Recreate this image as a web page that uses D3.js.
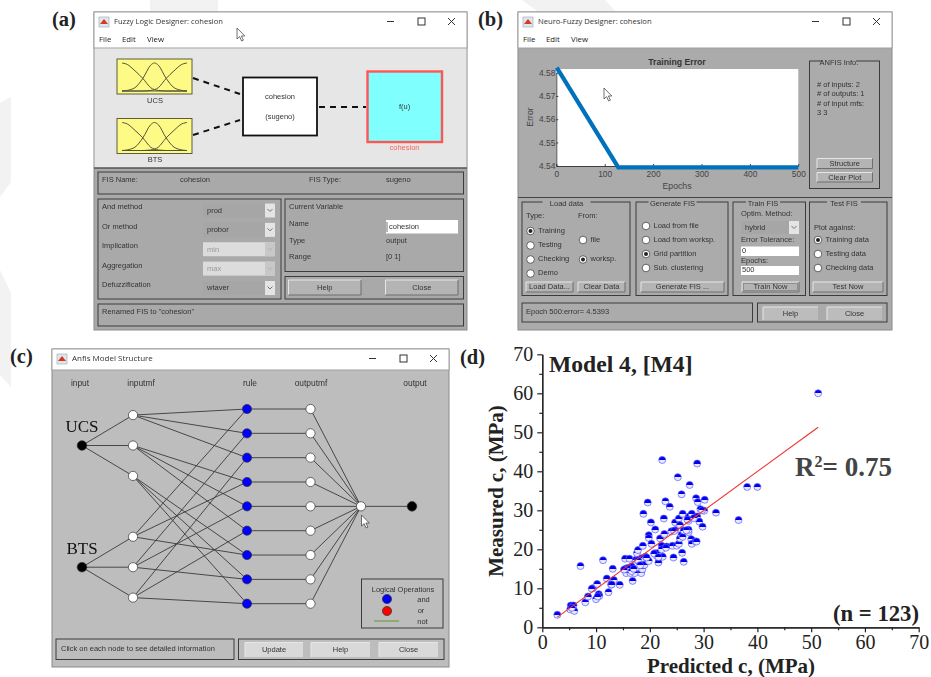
<!DOCTYPE html>
<html>
<head>
<title>ANFIS model</title>
<script src="https://d3js.org/d3.v7.min.js"></script>
<style>
    html, body { margin: 0; padding: 0; background: white; }
    svg { display: block; }
    .gui text { font-family: 'Liberation Sans', sans-serif; font-size: 7.5px; fill: #333; dominant-baseline: middle; }
    .gui text.wintitle { font-family: 'Open Sans', sans-serif; font-size: 7.6px; fill: #333; }
    .gui text.menu { font-family: 'Open Sans', sans-serif; font-size: 7.8px; fill: #222; }
    .soft { filter: blur(0.35px); }
    .axisd text { font-family: 'Liberation Serif', serif; font-size: 20px; fill: #222; }
    .axisd path, .axisd line { stroke: #222; stroke-width: 1.2px; }
    .gui .axisb text { font-family: 'Liberation Sans', sans-serif; font-size: 8.4px; fill: #444; dominant-baseline: auto; }
    .axisb path, .axisb line { stroke: #222; stroke-width: 0.8px; }
</style>
</head>
<body>
<svg id="canvas" width="931" height="677"></svg>
<script>
// (d) predicted vs measured cohesion
const predicted = [2.8,5.3,5.8,5.2,5.95,7.1,8.0,8.5,9.4,10.0,10.2,10.5,10.6,11.3,12.0,12.3,12.8,13.1,13.3,14.4,
    15.4,15.5,15.6,16.2,16.1,16.4,16.6,16.8,16.9,17.2,17.4,17.6,17.8,18.2,18.4,18.6,18.7,18.8,18.5,19.0,
    19.2,19.6,19.8,19.8,19.8,20.2,20.3,21.0,21.0,21.3,21.6,21.4,21.9,22.3,22.2,22.2,22.4,22.6,22.7,22.9,
    23.1,23.7,24.0,24.2,24.4,24.7,24.7,25.0,25.2,25.4,25.4,25.6,25.6,25.9,25.9,26.0,26.1,26.1,26.3,26.3,
    27.2,27.2,27.3,27.2,27.4,27.8,27.7,27.8,28.5,28.7,28.6,28.8,28.9,28.8,29.2,29.4,29.8,30.2,30.1,32.3,
    36.5,38.1,40.0,51.3,10.3,9.2,5.5,12.9,15.9,16.6,17.0,17.8,18.2,19.4,20.8,21.6,23.0,24.5,26.8,27.0,
    28.2,29.7,15.2]
const measured = [3.2,5.6,5.6,4.6,4.2,15.7,6.4,7.9,10.0,7.2,11.1,8.5,8.0,17.2,12.5,9.0,10.9,15.0,12.1,10.9,
    17.6,15.0,13.9,17.6,14.9,13.9,15.6,11.9,14.5,13.9,17.3,19.0,19.8,16.6,13.9,14.9,20.9,29.1,17.7,16.0,
    18.1,32.0,23.6,22.9,17.0,26.9,21.4,25.1,19.0,18.3,16.6,19.0,22.8,42.9,20.9,20.0,18.1,27.9,23.9,32.3,
    20.7,30.9,24.6,20.9,17.9,26.9,24.9,20.9,38.5,27.9,21.4,26.2,22.8,23.7,34.1,19.1,29.1,23.2,16.8,24.8,
    24.4,25.0,28.4,27.3,36.5,29.1,22.6,21.4,22.0,22.0,33.1,42.0,32.1,28.4,27.1,30.3,25.8,32.7,29.9,29.4,
    27.5,36.0,36.0,60.0,7.9,9.9,5.0,11.0,15.2,14.4,15.0,17.2,15.9,17.9,18.9,18.0,20.4,24.7,24.9,27.6,
    28.0,30.0,14.8]
const fitX = [2.8, 51.3]
const fitY = [2.6, 51.3]
const dTicks = [0, 10, 20, 30, 40, 50, 60, 70]
const dMinorTicks = [5, 15, 25, 35, 45, 55, 65]

// (b) training error curve
const epochs = [1, 128, 500]
const trainError = [4.5822, 4.5393, 4.5393]
const epochTicks = [0, 100, 200, 300, 400, 500]
const errorTicks = [4.54, 4.55, 4.56, 4.57, 4.58]

// (c) network layers, rows are in units of the rule spacing
const inputRows = [1.5, 6.5]
const inputMfRows = [0.25, 1.5, 2.75, 5.25, 6.5, 7.75]
const ruleRows = [0, 1, 2, 3, 4, 5, 6, 7, 8]
const ruleInputs = [[0,3],[0,4],[0,5],[1,3],[1,4],[1,5],[2,3],[2,4],[2,5]]
const layerNames = ['input', 'inputmf', 'rule', 'outputmf', 'output']
const inputNames = ['UCS', 'BTS']

// (a) membership function icon, heights
const mfX = [0, .08, .2, .32, .44, .5, .56, .68, .8, .92, 1]
const mfLeft = [1, .95, .72, .45, .12, .05, .02, 0, 0, 0, 0]
const mfMid = [0, .02, .12, .45, .92, 1, .92, .45, .12, .02, 0]
const mfRight = [0, 0, 0, 0, .02, .05, .12, .45, .72, .95, 1]

const svg = d3.select('#canvas')

// faint watermark behind the windows
const watermark = [
    [[150,0],[218,0],[218,13],[150,13]],
    [[522,0],[605,0],[617,13],[540,13]],
    [[0,103],[11,97],[11,182],[0,197]],
    [[0,270],[11,293],[11,387],[0,375]]
]
svg.selectAll('polygon.wm').data(watermark).enter().append('polygon')
    .attr('points', d => d.join(' ')).attr('fill', '#f2f2f2')

// ---- little gui helpers
const box = (g, x0, y0, x1, y1, fill, stroke, sw) => g.append('rect')
    .attr('x', x0).attr('y', y0).attr('width', x1 - x0).attr('height', y1 - y0)
    .attr('fill', fill || 'none').attr('stroke', stroke || 'none').attr('stroke-width', sw || 1)

const label = (g, x, y, s, anchor, cls) => g.append('text')
    .attr('x', x).attr('y', y).attr('text-anchor', anchor || 'start').attr('class', cls || null).text(s)

const frame = (g, x0, y0, x1, y1) => box(g, x0, y0, x1, y1, 'none', '#3c3c3c', 1)

// group frame with a title breaking the top edge
const titledFrame = (g, x0, y0, x1, y1, title, cx, gap, bg) => {
    frame(g, x0, y0, x1, y1)
    box(g, cx - gap, y0 - 1, cx + gap, y0 + 1.5, bg)
    label(g, cx, y0 + 2.5, title, 'middle')
}

const button = (g, x0, y0, x1, y1, s, face) => {
    box(g, x0, y0, x1, y1, face || '#b4b4b4')
    g.append('path').attr('d', `M${x0},${y1}V${y0}H${x1}`).attr('fill', 'none').attr('stroke', '#e6e6e6')
    if (!face) g.append('path').attr('d', `M${x0},${y1}H${x1}V${y0}`).attr('fill', 'none').attr('stroke', '#6e6e6e')
    label(g, (x0 + x1) / 2, (y0 + y1) / 2 + .5, s, 'middle')
}

const radio = (g, x, y, s, on) => {
    g.append('circle').attr('cx', x).attr('cy', y).attr('r', 3.8).attr('fill', 'white').attr('stroke', '#444').attr('stroke-width', .8)
    if (on) g.append('circle').attr('cx', x).attr('cy', y).attr('r', 2).attr('fill', '#222')
    label(g, x + 7.5, y, s)
}

const dropdown = (g, x0, y0, x1, y1, s, disabled) => {
    box(g, x0, y0, x1, y1, disabled ? '#dcdcdc' : '#a6a6a6')
    box(g, x1 - 10, y0, x1, y1, disabled ? '#c8c8c8' : '#e4e4e4')
    const my = (y0 + y1) / 2
    g.append('path').attr('d', `M${x1 - 7.5},${my - 1.5}l2.5,2.5l2.5,-2.5`).attr('fill', 'none').attr('stroke', disabled ? '#aaa' : '#555').attr('stroke-width', .8)
    const t = label(g, x0 + 4, my + .5, s)
    if (disabled) t.style('fill', '#999')
}

const chrome = (g, x0, y0, x1, y1, barBottom, title, bg, menus) => {
    box(g, x0, y0, x1, y1, bg, '#8a8a8a', 1)
    box(g, x0, y0, x1, barBottom, 'white', '#a0a0a0', 1)
    // matlab icon
    box(g, x0 + 5, y0 + 5, x0 + 15, y0 + 15, '#dfe6ee', '#9aa6b2', .6)
    g.append('path').attr('d', `M${x0 + 6},${y0 + 12}l4,-5l4,5z`).attr('fill', '#d9381e')
    const titleText = label(g, x0 + 20, y0 + 10, title, 'start', 'wintitle')
    const by = y0 + 9.5
    g.append('path').attr('d', `M${x1 - 80},${by}h7`).attr('stroke', '#333')
    box(g, x1 - 49, by - 3.5, x1 - 42, by + 3.5, 'none', '#333', 1)
    g.append('path').attr('d', `M${x1 - 19},${by - 3.5}l7,7m0,-7l-7,7`).attr('stroke', '#333').attr('stroke-width', 1)
    if (menus) {
        label(g, x0 + 5, y0 + 28, 'File', 'start', 'menu')
        label(g, x0 + 28, y0 + 28, 'Edit', 'start', 'menu')
        label(g, x0 + 53, y0 + 28, 'View', 'start', 'menu')
    }
    return titleText
}

const cursor = (g, x, y) => g.append('path')
    .attr('d', `M${x},${y}v11l2.6,-2.4l2,4.4l1.8,-.8l-2,-4.2h3.4z`)
    .attr('fill', 'white').attr('stroke', '#333').attr('stroke-width', .7)

// ---- panel (a)
const a = svg.append('g').attr('class', 'gui soft')
chrome(a, 94, 12, 467, 330, 48, 'Fuzzy Logic Designer: cohesion', '#a9a9a9', true)
box(a, 94.5, 48.5, 466.5, 168, '#e6e6e6')
a.append('path').attr('d', 'M94,168H467').attr('stroke', '#555').attr('stroke-width', 1.5)
cursor(a, 237, 28)

const mfIcon = (y0, name) => {
    box(a, 117, y0, 192, y0 + 35, '#fdfb85', '#5a5a40', 1)
    const mx = d3.scaleLinear().domain([0, 1]).range([122, 187])
    const my = d3.scaleLinear().domain([0, 1]).range([y0 + 32, y0 + 4])
    const curve = d3.line().x((d, i) => mx(mfX[i])).y(d => my(d)).curve(d3.curveCatmullRom)
    ;[mfLeft, mfMid, mfRight].forEach(c => a.append('path').attr('d', curve(c))
        .attr('fill', 'none').attr('stroke', '#55533a').attr('stroke-width', 1))
    a.append('path').attr('d', `M${mx(0)},${my(0)}H${mx(1)}`).attr('stroke', '#55533a').attr('stroke-width', 1)
    label(a, 155, y0 + 42, name, 'middle')
}
mfIcon(59, 'UCS')
mfIcon(118.5, 'BTS')

const dashed = (x0, y0, x1, y1) => a.append('path').attr('d', `M${x0},${y0}L${x1},${y1}`)
    .attr('stroke', '#111').attr('stroke-width', 2).attr('stroke-dasharray', '6,5')
dashed(193, 78, 240, 94)
dashed(193, 135, 240, 120)
dashed(319, 107, 366, 107)
box(a, 243, 77.5, 317, 135.5, 'white', '#111', 1.8)
label(a, 280, 97.5, 'cohesion', 'middle')
label(a, 280, 117, '(sugeno)', 'middle')
box(a, 367.5, 71.5, 442, 142, '#80ffff', '#ff5555', 2.4)
label(a, 404.5, 107, 'f(u)', 'middle')
label(a, 404.5, 148.5, 'cohesion', 'middle').style('fill', '#ff5f5f')

frame(a, 98, 172, 463.5, 194)
label(a, 102, 180.5, 'FIS Name:')
label(a, 180, 180, 'cohesion')
label(a, 309, 180.5, 'FIS Type:')
label(a, 386, 180.5, 'sugeno')

frame(a, 98, 199, 281, 299)
const methodRows = [
    ['And method', 'prod', false],
    ['Or method', 'probor', false],
    ['Implication', 'min', true],
    ['Aggregation', 'max', true],
    ['Defuzzification', 'wtaver', false]
]
const methodY = d3.scalePoint().domain(methodRows.map(d => d[0])).range([207.5, 285])
methodRows.forEach(d => {
    label(a, 102, methodY(d[0]), d[0])
    dropdown(a, 203, methodY(d[0]) - 4, 275, methodY(d[0]) + 10, d[1], d[2])
})

frame(a, 285, 199, 463.5, 271.5)
label(a, 289, 207.5, 'Current Variable')
label(a, 289, 224, 'Name')
box(a, 386, 220, 458, 233.5, 'white')
label(a, 389, 227.5, 'cohesion')
a.append('path').attr('d', 'M387,222V232').attr('stroke', '#333').attr('stroke-width', .7)
label(a, 289, 241, 'Type')
label(a, 386, 241, 'output')
label(a, 289, 257.5, 'Range')
label(a, 386, 257.5, '[0 1]')

frame(a, 285, 276.5, 463.5, 299)
button(a, 288.5, 280, 361, 295, 'Help')
button(a, 385.5, 280, 458, 295, 'Close')
frame(a, 98, 304, 463.5, 326)
label(a, 102, 312.5, 'Renamed FIS to "cohesion"')

// ---- panel (b)
const b = svg.append('g').attr('class', 'gui soft')
chrome(b, 518, 12, 892, 330, 48, 'Neuro-Fuzzy Designer: cohesion', '#ababab', true)

const bx = d3.scaleLinear().domain([0, 500]).range([556.3, 798.3])
const by = d3.scaleLinear().domain([4.54, 4.58]).range([165.7, 72.7])
box(b, 556.3, 69, 798.3, 166, 'white')
b.append('g').attr('class', 'axisb').attr('transform', 'translate(0,166)')
    .call(d3.axisBottom(bx).tickValues(epochTicks).tickSize(-2).tickSizeOuter(0).tickPadding(5))
b.append('g').attr('class', 'axisb').attr('transform', 'translate(556.3,0)')
    .call(d3.axisLeft(by).tickValues(errorTicks).tickSize(-2).tickSizeOuter(0).tickPadding(1).tickFormat(d3.format('.2f')))
b.append('path').attr('d', d3.line().x((d, i) => bx(epochs[i])).y(d => by(d))(trainError))
    .attr('fill', 'none').attr('stroke', '#0072bd').attr('stroke-width', 4.2)
label(b, 677, 63, 'Training Error', 'middle').style('font-weight', 'bold').style('font-size', '8.7px')
label(b, 677, 187, 'Epochs', 'middle').style('font-size', '8.7px').style('fill', '#444')
b.append('text').attr('transform', 'translate(531,117) rotate(-90)').attr('text-anchor', 'middle').style('font-size', '8.7px').style('fill', '#444').text('Error')
cursor(b, 604, 88)

titledFrame(b, 809.5, 61, 879.5, 188.5, 'ANFIS Info.', 839, 17, '#ababab')
label(b, 817, 85, '# of inputs: 2')
label(b, 817, 94.5, '# of outputs: 1')
label(b, 817, 104, '# of input mfs:')
label(b, 817, 113, '3  3')
button(b, 817, 158.5, 872.5, 168.5, 'Structure')
button(b, 817, 172.5, 872.5, 182, 'Clear Plot')

b.append('path').attr('d', 'M518,197.5H892').attr('stroke', '#444').attr('stroke-width', 1.2)

titledFrame(b, 522, 202, 630, 295.5, 'Load data', 566.5, 24, '#ababab')
label(b, 526, 216, 'Type:')
label(b, 578, 216, 'From:')
radio(b, 530.5, 231, 'Training', true)
radio(b, 530.5, 245.5, 'Testing')
radio(b, 530.5, 259.5, 'Checking')
radio(b, 530.5, 273.5, 'Demo')
radio(b, 583, 240, 'file')
radio(b, 583, 259.5, 'worksp.', true)
button(b, 526, 282, 573, 292, 'Load Data...')
button(b, 578, 282, 625, 292, 'Clear Data')

titledFrame(b, 636, 202, 728, 295.5, 'Generate FIS', 672.5, 24, '#ababab')
radio(b, 646, 226, 'Load from file')
radio(b, 646, 240, 'Load from worksp.')
radio(b, 646, 254, 'Grid partition', true)
radio(b, 646, 268, 'Sub. clustering')
button(b, 641, 282, 724, 292, 'Generate FIS ...')

titledFrame(b, 733, 202, 805.5, 295.5, 'Train FIS', 763, 17, '#ababab')
label(b, 741, 214, 'Optim. Method:')
dropdown(b, 741, 221, 799, 234, 'hybrid')
label(b, 741, 240.5, 'Error Tolerance:')
box(b, 741, 246.5, 799, 256, 'white')
label(b, 742, 251.5, '0')
label(b, 741, 261, 'Epochs:')
box(b, 741, 266, 799, 275, 'white')
label(b, 742, 270.5, '500')
button(b, 742, 282, 799, 292, 'Train Now')
box(b, 743.5, 283.5, 797.5, 290.5, 'none', '#333', .6).attr('stroke-dasharray', '1,1')

titledFrame(b, 809.5, 202, 887, 295.5, 'Test FIS', 844, 17, '#ababab')
label(b, 814, 228, 'Plot against:')
radio(b, 818, 240, 'Training data', true)
radio(b, 818, 254, 'Testing data')
radio(b, 818, 268, 'Checking data')
button(b, 813, 282, 883, 292, 'Test Now')

frame(b, 522, 303, 752.5, 322)
label(b, 526, 312, 'Epoch 500:error= 4.5393')
frame(b, 757.5, 303, 887, 322)
button(b, 763, 307, 818, 320, 'Help', '#bcbcbc')
button(b, 827, 307, 882, 320, 'Close', '#bcbcbc')

// ---- panel (c)
const c = svg.append('g').attr('class', 'gui soft')
chrome(c, 52, 349, 449, 667, 370, 'Anfis Model Structure', '#bdbdbd', false).style('font-size', '8px')

const rowY = d3.scaleLinear().domain([0, 8]).range([409, 603.7])
const layerX = { input: 82, inputmf: 133, rule: 247, outputmf: 310.5, sum: 361, output: 412 }
const headerX = d3.scaleOrdinal().domain(layerNames).range([80, 141, 250, 311, 415])
layerNames.forEach(n => label(c, headerX(n), 383.5, n, 'middle').style('font-size', '8.4px'))

const edge = (x0, y0, x1, y1) => c.append('line').attr('x1', x0).attr('y1', y0).attr('x2', x1).attr('y2', y1)
    .attr('stroke', '#3a3a3a').attr('stroke-width', .9)
inputMfRows.forEach((r, i) => edge(layerX.input, rowY(inputRows[i < 3 ? 0 : 1]), layerX.inputmf, rowY(r)))
ruleInputs.forEach((pair, i) => pair.forEach(m => edge(layerX.inputmf, rowY(inputMfRows[m]), layerX.rule, rowY(ruleRows[i]))))
ruleRows.forEach(r => {
    edge(layerX.rule, rowY(r), layerX.outputmf, rowY(r))
    edge(layerX.outputmf, rowY(r), layerX.sum, rowY(4))
})
edge(layerX.sum, rowY(4), layerX.output, rowY(4))

const node = (x, y, fill, r) => c.append('circle').attr('cx', x).attr('cy', y).attr('r', r || 4.6)
    .attr('fill', fill).attr('stroke', '#333').attr('stroke-width', .7)
inputRows.forEach(r => node(layerX.input, rowY(r), 'black', 4.8))
inputMfRows.forEach(r => node(layerX.inputmf, rowY(r), 'white'))
ruleRows.forEach(r => { node(layerX.rule, rowY(r), '#0000ff'); node(layerX.outputmf, rowY(r), 'white') })
node(layerX.sum, rowY(4), 'white')
node(layerX.output, rowY(4), 'black', 4.8)
inputRows.forEach((r, i) => c.append('text').attr('x', 82).attr('y', rowY(r) - 17)
    .attr('text-anchor', 'middle').style('font-family', "'Liberation Serif', serif").style('font-size', '17px').style('fill', '#111').text(inputNames[i]))
cursor(c, 361.5, 515)

frame(c, 361.5, 579, 443, 628)
label(c, 403, 590, 'Logical Operations', 'middle')
node(387, 599, '#0000ff')
node(387, 611, '#ff0000')
c.append('path').attr('d', 'M374,621H399').attr('stroke', '#5a9a2a')
label(c, 423.5, 600.5, 'and', 'middle')
label(c, 421, 611.5, 'or', 'middle')
label(c, 422.5, 622.5, 'not', 'middle')

frame(c, 56, 639, 234, 659.5)
label(c, 61, 649.5, 'Click on each node to see detailed information')
frame(c, 238.5, 639, 444, 659.5)
button(c, 245, 642.5, 303, 657, 'Update', '#d9d9d9')
button(c, 311, 642.5, 370, 657, 'Help', '#d9d9d9')
button(c, 379, 642.5, 438, 657, 'Close', '#d9d9d9')

// ---- panel letters and other serif bold text
const serifBold = (x, y, s, size, fill, anchor) => svg.append('text').attr('x', x).attr('y', y)
    .attr('text-anchor', anchor || 'start')
    .style('font-family', "'Liberation Serif', serif").style('font-weight', 'bold')
    .style('font-size', size + 'px').attr('fill', fill || '#222').text(s)
serifBold(52, 26, '(a)', 20.5)
serifBold(478, 26, '(b)', 20.5)
serifBold(10, 363, '(c)', 20.5)
serifBold(460, 364, '(d)', 20.5)

// ---- panel (d)
const d = svg.append('g')
const dx = d3.scaleLinear().domain([0, 70]).range([542.3, 918.7])
const dy = d3.scaleLinear().domain([0, 70]).range([627.3, 354.3])

const halfFill = svg.append('defs').append('linearGradient').attr('id', 'half')
    .attr('x1', 0).attr('y1', 0).attr('x2', 0).attr('y2', 1)
halfFill.append('stop').attr('offset', '52%').attr('stop-color', '#0000ee')
halfFill.append('stop').attr('offset', '52%').attr('stop-color', '#e8e8ff')

d.append('g').attr('class', 'axisd').attr('transform', 'translate(0,627.3)')
    .call(d3.axisBottom(dx).tickValues(dTicks).tickSize(5).tickSizeOuter(0).tickPadding(3).tickFormat(d3.format('d')))
d.append('g').attr('class', 'axisd').attr('transform', 'translate(542.3,0)')
    .call(d3.axisLeft(dy).tickValues(dTicks).tickSize(5).tickSizeOuter(0).tickPadding(4).tickFormat(d3.format('d')))
d.append('g').attr('class', 'axisd').attr('transform', 'translate(0,627.3)')
    .call(d3.axisBottom(dx).tickValues(dMinorTicks).tickSize(3).tickSizeOuter(0).tickFormat(''))
d.append('g').attr('class', 'axisd').attr('transform', 'translate(542.3,0)')
    .call(d3.axisLeft(dy).tickValues(dMinorTicks).tickSize(3).tickSizeOuter(0).tickFormat(''))

d.selectAll('circle.pt').data(predicted).enter().append('circle')
    .attr('class', 'pt')
    .attr('cx', v => dx(v))
    .attr('cy', (v, i) => dy(measured[i]))
    .attr('r', 3.5)
    .attr('fill', 'url(#half)')
    .attr('stroke', '#5a5aff')
    .attr('stroke-width', .7)

d.append('path').attr('d', d3.line().x((v, i) => dx(fitX[i])).y(v => dy(v))(fitY))
    .attr('fill', 'none').attr('stroke', '#f03030').attr('stroke-width', 1.1)

serifBold(549, 372, 'Model 4, [M4]', 23.6, '#222')
const r2 = serifBold(795, 476, 'R', 27, '#444')
r2.append('tspan').attr('dy', -9).style('font-size', '16px').text('2')
r2.append('tspan').attr('dy', 9).text('= 0.75')
serifBold(919, 620.5, '(n = 123)', 22.7, '#222', 'end')
serifBold(731, 672.5, 'Predicted c, (MPa)', 21, '#222', 'middle')
svg.append('text').attr('transform', 'translate(503,491) rotate(-90)').attr('text-anchor', 'middle')
    .style('font-family', "'Liberation Serif', serif").style('font-weight', 'bold').style('font-size', '21px')
    .attr('fill', '#222').text('Measured c, (MPa)')
</script>
</body>
</html>
